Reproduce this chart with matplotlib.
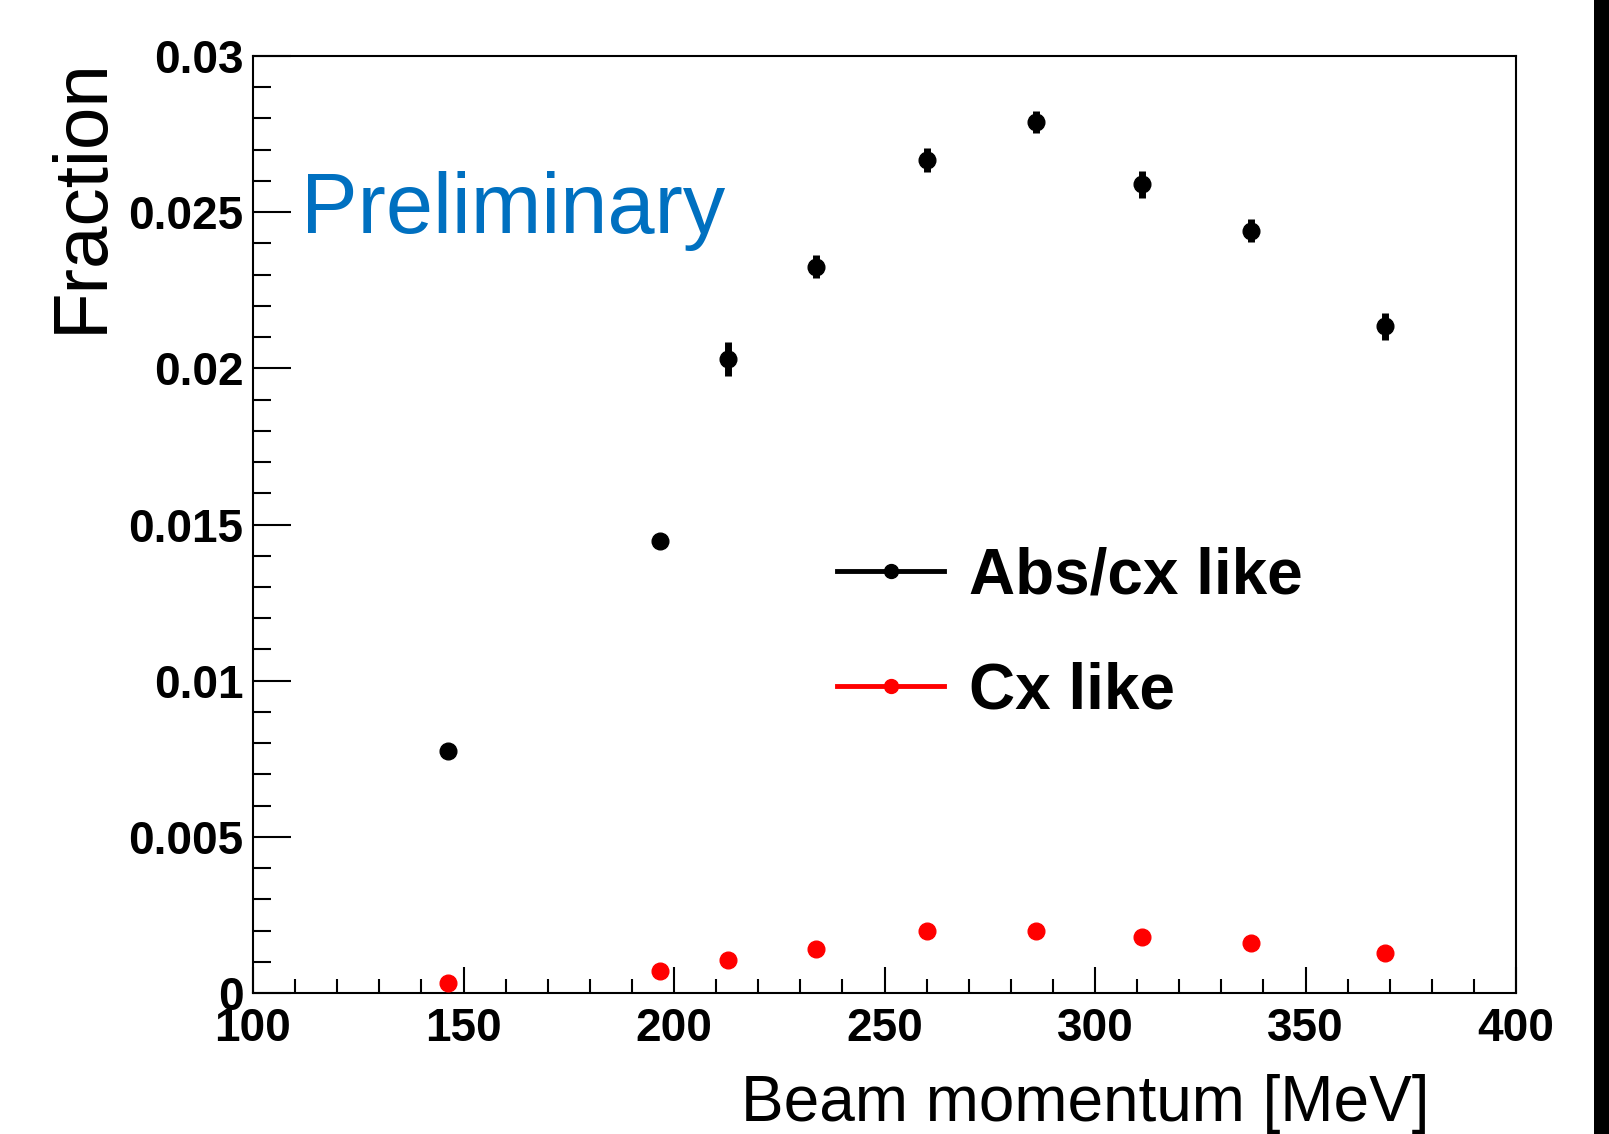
import matplotlib
matplotlib.use('Agg')
import matplotlib.pyplot as plt
from matplotlib.lines import Line2D
from matplotlib.patches import Rectangle

plt.rcParams['font.family'] = ['Liberation Sans', 'DejaVu Sans']

# Valores
momentum = [146.3, 196.6, 212.9, 233.7, 260.0, 285.9, 311.2, 337.1, 369.0]
abs_cx = [0.00775, 0.01448, 0.0203, 0.02326, 0.02667, 0.02788, 0.02589, 0.02441, 0.02134]
abs_cx_err = [0.0002, 0.00022, 0.00055, 0.00036, 0.00038, 0.00035, 0.00043, 0.00037, 0.00043]
cx = [0.00032, 0.00071, 0.00107, 0.0014, 0.00199, 0.00199, 0.0018, 0.0016, 0.00127]
cx_err = [0.00012, 0.00012, 0.00012, 0.00012, 0.00012, 0.00012, 0.00012, 0.00012, 0.00012]

y_ticks = [0, 0.005, 0.01, 0.015, 0.02, 0.025, 0.03]
y_labels = ['0', '0.005', '0.01', '0.015', '0.02', '0.025', '0.03']
x_ticks = [100, 150, 200, 250, 300, 350, 400]
x_labels = ['100', '150', '200', '250', '300', '350', '400']

W, H = 1609, 1134
fig = plt.figure(figsize=(W / 100, H / 100), dpi=100)
ax = fig.add_axes([253 / W, 1 - 993 / H, (1516 - 253) / W, (993 - 56) / H])

ax.errorbar(momentum, abs_cx, yerr=abs_cx_err, fmt='o', color='black',
            markersize=12, elinewidth=5, capsize=0, zorder=3)
ax.errorbar(momentum, cx, yerr=cx_err, fmt='o', color='red',
            markersize=12, elinewidth=5, capsize=0, zorder=3)

ax.set_xlim(100, 400)
ax.set_ylim(0, 0.03)
ax.set_xticks(x_ticks)
ax.set_xticklabels(x_labels)
ax.set_yticks(y_ticks)
ax.set_yticklabels(y_labels)
ax.set_xticks(range(100, 401, 10), minor=True)
ax.set_yticks([i * 0.001 for i in range(31)], minor=True)

for s in ax.spines.values():
    s.set_linewidth(1.5)
ax.tick_params(which='both', direction='in', top=False, right=False, width=1.5)
ax.tick_params(axis='y', which='major', length=27, pad=7)
ax.tick_params(axis='y', which='minor', length=13)
ax.tick_params(axis='x', which='major', length=19, pad=10)
ax.tick_params(axis='x', which='minor', length=10)
for lab in ax.get_xticklabels() + ax.get_yticklabels():
    lab.set_fontsize(33)
    lab.set_fontweight('bold')

# Etiquetas de ejes en posiciones fijas (estilo ROOT)
fig.text(82 / W, 1 - 195 / H, 'Fraction', rotation=90, ha='center', va='center', fontsize=55)
fig.text(1429 / W, 13 / H, 'Beam momentum [MeV]', ha='right', va='baseline', fontsize=46)
fig.text(301 / W, 1 - 233 / H, 'Preliminary', ha='left', va='baseline', fontsize=61, color='#0070C0')

# Leyenda
handles = [Line2D([], [], color='black', lw=3.5, marker='o', markersize=10),
           Line2D([], [], color='red', lw=3.5, marker='o', markersize=10)]
fig.legend(handles, ['Abs/cx like', 'Cx like'], loc='center left',
           bbox_to_anchor=(837 / W, 1 - 634 / H), frameon=False, numpoints=1,
           prop={'size': 46, 'weight': 'bold'}, handlelength=1.68,
           handletextpad=0.38, labelspacing=0.85, borderpad=0, borderaxespad=0)

# Franja negra del borde derecho
fig.patches.append(Rectangle((1594 / W, 0), 15 / W, 1, transform=fig.transFigure,
                             facecolor='black', edgecolor='none'))

fig.savefig('out.png', dpi=100)
